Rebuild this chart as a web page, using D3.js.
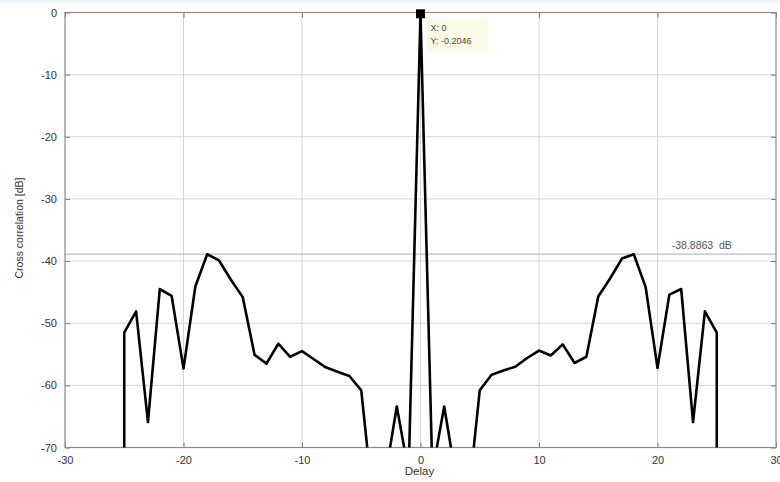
<!DOCTYPE html>
<html>
<head>
<meta charset="utf-8">
<title>Cross correlation</title>
<script src="https://cdn.jsdelivr.net/npm/d3@7"></script>
<style>
body { margin: 0; background: #fff; }
svg { font-family: "Liberation Sans", Arial, sans-serif; }
.grid line { stroke: #d4d4d4; stroke-width: 1; }
.tick text { fill: #333; font-size: 11px; }
</style>
</head>
<body>
<svg width="780" height="482"></svg>
<script>
// delays (samples) and cross correlation in dB; values below -70 run off the plot
var delays = [-25, -25, -24, -23, -22, -21, -20, -19, -18, -17, -16, -15, -14, -13, -12, -11, -10,
  -9, -8, -7, -6, -5, -4, -3, -2, -1, 0, 1, 2, 3, 4, 5, 6, 7, 8, 9, 10,
  11, 12, 13, 14, 15, 16, 17, 18, 19, 20, 21, 22, 23, 24, 25, 25];
var corrDb = [-120, -51.5, -48.1, -65.9, -44.5, -45.6, -57.3, -44.1, -38.9, -39.9, -43.0, -45.8, -55.1, -56.5, -53.3, -55.4, -54.5,
  -55.8, -57.1, -57.8, -58.5, -60.8, -79, -75, -63.4, -74, -0.2046, -74, -63.4, -75, -79, -60.8, -58.3, -57.6, -57.0, -55.6, -54.4,
  -55.2, -53.4, -56.4, -55.4, -45.7, -42.8, -39.6, -38.9, -44.2, -57.2, -45.4, -44.5, -65.9, -48.1, -51.5, -120];
var xTicks = [-30, -20, -10, 0, 10, 20, 30];
var yTicks = [0, -10, -20, -30, -40, -50, -60, -70];
var maxLevel = -38.8863;
var tipX = 0, tipY = -0.2046;

var svg = d3.select("svg");
var mLeft = 65, mRight = 776, mTop = 12.5, mBottom = 447.5;

var x = d3.scaleLinear().domain([-30, 30]).range([mLeft, mRight]);
var y = d3.scaleLinear().domain([-70, 0]).range([mBottom, mTop]);
var fmt = d => String(d);

// top strip
svg.append("rect").attr("x", 0).attr("y", 0).attr("width", 780).attr("height", 3).attr("fill", "#eef7fa");

// grid
var grid = svg.append("g").attr("class", "grid");
grid.selectAll(".gx").data(xTicks.slice(1, -1)).enter().append("line")
  .attr("x1", d => x(d)).attr("x2", d => x(d)).attr("y1", mTop).attr("y2", mBottom);
grid.selectAll(".gy").data(yTicks.slice(1, -1)).enter().append("line")
  .attr("y1", d => y(d)).attr("y2", d => y(d)).attr("x1", mLeft).attr("x2", mRight);

// max level line
svg.append("line")
  .attr("x1", mLeft).attr("x2", mRight).attr("y1", y(maxLevel)).attr("y2", y(maxLevel))
  .attr("stroke", "#bdbdbd").attr("stroke-width", 1.3);
svg.append("text")
  .attr("x", x(21.2)).attr("y", y(maxLevel) - 5)
  .attr("fill", "#555").attr("font-size", 10.5)
  .attr("xml:space", "preserve")
  .text(maxLevel.toFixed(4) + "  dB");

// axes (inward ticks on all four sides)
function styleAxis(g) {
  g.select(".domain").remove();
  g.selectAll(".tick line").attr("stroke", "#777");
}
svg.append("g").attr("transform", "translate(0," + mBottom + ")")
  .call(d3.axisBottom(x).tickValues(xTicks).tickSizeInner(-5).tickSizeOuter(0).tickPadding(9).tickFormat(fmt))
  .call(styleAxis);
svg.append("g").attr("transform", "translate(0," + mTop + ")")
  .call(d3.axisTop(x).tickValues(xTicks).tickSizeInner(-5).tickSizeOuter(0).tickFormat(""))
  .call(styleAxis);
svg.append("g").attr("transform", "translate(" + mLeft + ",0)")
  .call(d3.axisLeft(y).tickValues(yTicks).tickSizeInner(-5).tickSizeOuter(0).tickPadding(8).tickFormat(fmt))
  .call(styleAxis);
svg.append("g").attr("transform", "translate(" + mRight + ",0)")
  .call(d3.axisRight(y).tickValues(yTicks).tickSizeInner(-5).tickSizeOuter(0).tickFormat(""))
  .call(styleAxis);

// box
svg.append("rect")
  .attr("x", mLeft).attr("y", mTop).attr("width", mRight - mLeft).attr("height", mBottom - mTop)
  .attr("fill", "none").attr("stroke", "#8a8a8a").attr("stroke-width", 1.2);

// data line
svg.append("clipPath").attr("id", "clip").append("rect")
  .attr("x", mLeft).attr("y", mTop - 2).attr("width", mRight - mLeft).attr("height", mBottom - mTop + 2);
var pts = delays.map((d, i) => [d, corrDb[i]]);
svg.append("path")
  .datum(pts)
  .attr("clip-path", "url(#clip)")
  .attr("fill", "none").attr("stroke", "#000").attr("stroke-width", 2.6)
  .attr("stroke-linejoin", "round")
  .attr("d", d3.line().x(d => x(d[0])).y(d => y(d[1])));

// data tip
svg.append("rect")
  .attr("x", x(tipX) - 4.5).attr("y", y(tipY) - 4.5).attr("width", 9).attr("height", 9)
  .attr("fill", "#000");
var tip = svg.append("g").attr("transform", "translate(" + (x(tipX) + 6) + "," + (y(tipY) + 5) + ")");
tip.append("rect").attr("width", 62).attr("height", 33).attr("fill", "#fbfbe8");
tip.append("text").attr("x", 4).attr("y", 12).attr("font-size", 9).attr("fill", "#444").text("X: " + tipX);
tip.append("text").attr("x", 4).attr("y", 25).attr("font-size", 9).attr("fill", "#444").text("Y: " + tipY);

// labels
svg.append("text")
  .attr("x", (mLeft + mRight) / 2 - 1).attr("y", 475)
  .attr("text-anchor", "middle").attr("font-size", 11.5).attr("fill", "#333")
  .text("Delay");
svg.append("text")
  .attr("transform", "translate(23," + 228 + ") rotate(-90)")
  .attr("text-anchor", "middle").attr("font-size", 10.5).attr("fill", "#333")
  .text("Cross correlation [dB]");
</script>
</body>
</html>
